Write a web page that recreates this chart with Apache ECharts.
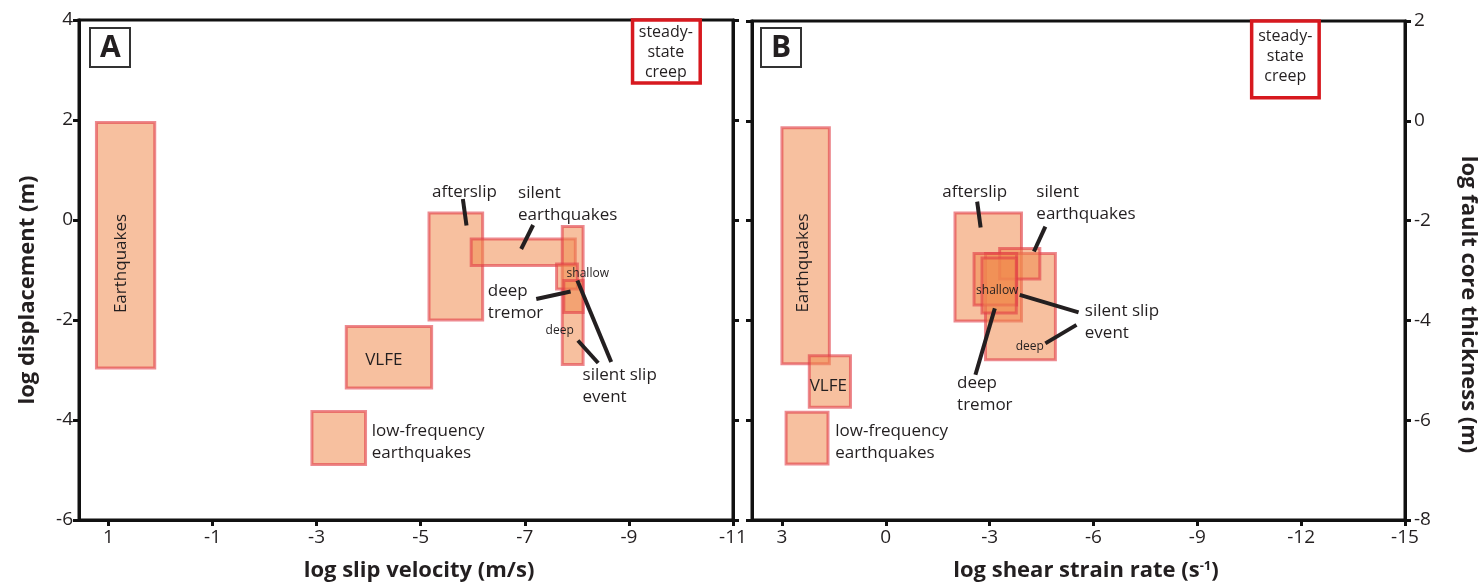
<!DOCTYPE html>
<html>
<head>
<meta charset="utf-8">
<title>Slip behaviour: slip velocity and strain rate</title>
<script src="https://cdn.jsdelivr.net/npm/echarts@6/dist/echarts.min.js"></script>
<style>
  html, body { margin: 0; padding: 0; background: #fff; }
  #chart { width: 1480px; height: 582px; }
</style>
</head>
<body>
<div id="chart"></div>
<script>
/* ---- panel A : log slip velocity (m/s) vs log displacement (m) ---- */
const namesA = ['Earthquakes', 'VLFE', 'low-frequency earthquakes', 'afterslip',
  'silent earthquakes', 'silent slip event', 'silent slip event (shallow)', 'deep tremor'];
const velLoA  = [0.11, -5.21, -3.94, -6.19, -7.97, -8.12, -8.01, -8.12];
const velHiA  = [1.23, -3.57, -2.91, -5.16, -5.97, -7.72, -7.61, -7.75];
const dispLoA = [-2.96, -3.36, -4.89, -2.00, -0.91, -2.89, -1.38, -1.85];
const dispHiA = [1.95, -2.13, -3.83, 0.14, -0.38, -0.13, -0.88, -1.21];
const creepA  = [-10.37, -9.07, 2.74, 4.0]; // steady-state creep box [xLo, xHi, yLo, yHi]

const velTicks  = [1, -1, -3, -5, -7, -9, -11];
const dispTicks = [4, 2, 0, -2, -4, -6];

// annotation anchors (data coords)
const labelsA = [['VLFE', -4.29, -2.81], ['afterslip', -5.84, 0.56]];
const creepLabelA = [['steady-\nstate\ncreep', -9.71, 3.36]];
const sideLabelsA = [['low-frequency\nearthquakes', -4.06, -4.45], ['silent\nearthquakes', -6.87, 0.31],
  ['deep\ntremor', -6.29, -1.64], ['silent slip\nevent', -8.11, -3.32]];
const tinyLabelsA = [['shallow', -8.21, -1.07], ['deep', -7.67, -2.21]];
const vertLabelsA = [['Earthquakes', 0.75, -0.87]];
const leadersA = [
  [-5.81, 0.42, -5.88, -0.11],
  [-7.16, -0.10, -6.93, -0.58],
  [-7.22, -1.58, -7.88, -1.43],
  [-8.01, -1.21, -8.66, -2.84],
  [-8.02, -2.41, -8.41, -2.86]
];

/* ---- panel B : log shear strain rate (1/s) vs log fault core thickness (m) ---- */
const namesB = ['Earthquakes', 'VLFE', 'low-frequency earthquakes', 'afterslip',
  'silent slip event (deep)', 'silent earthquakes', 'silent slip event (shallow)', 'deep tremor'];
const rateLoB  = [1.63, 1.02, 1.67, -3.92, -4.90, -4.45, -3.78, -3.77];
const rateHiB  = [3.00, 2.21, 2.88, -2.00, -2.88, -3.29, -2.55, -2.78];
const thickLoB = [-4.87, -5.74, -6.88, -4.01, -4.79, -3.17, -3.69, -3.85];
const thickHiB = [-0.14, -4.71, -5.84, -1.85, -2.66, -2.56, -2.66, -2.75];
const creepB   = [-12.52, -10.57, 0.46, 2.0];

const rateTicks  = [3, 0, -3, -6, -9, -12, -15];
const thickTicks = [2, 0, -2, -4, -6, -8];

const labelsB = [['VLFE', 1.66, -5.31], ['afterslip', -2.57, -1.42]];
const creepLabelB = [['steady-\nstate\ncreep', -11.54, 1.28]];
const sideLabelsB = [['low-frequency\nearthquakes', 1.46, -6.45], ['silent\nearthquakes', -4.35, -1.65],
  ['deep\ntremor', -2.06, -5.47], ['silent slip\nevent', -5.75, -4.04]];
const tinyLabelsB = [['shallow', -3.22, -3.41], ['deep', -4.16, -4.53]];
const vertLabelsB = [['Earthquakes', 2.4, -2.85]];
const leadersB = [
  [-2.64, -1.62, -2.74, -2.14],
  [-4.61, -2.12, -4.28, -2.62],
  [-3.87, -3.49, -5.57, -3.84],
  [-4.61, -4.46, -5.51, -4.09],
  [-3.15, -3.76, -2.59, -5.09]
];

const INK = '#231f20';
const FONT = 'Open Sans';
const boxStyle = { fill: 'rgba(240,140,80,0.55)', stroke: 'rgba(225,60,70,0.6)', lineWidth: 3 };
const creepStyle = { fill: '#fff', stroke: '#d7191f', lineWidth: 3.5 };

// rectangles from [xLo, xHi, yLo, yHi]
function boxSeries(rows, xi, yi, style) {
  return {
    type: 'custom', xAxisIndex: xi, yAxisIndex: yi, silent: true,
    data: rows,
    encode: { x: [0, 1], y: [2, 3] },
    renderItem: function (params, api) {
      var a = api.coord([api.value(0), api.value(3)]);
      var b = api.coord([api.value(1), api.value(2)]);
      return {
        type: 'rect',
        shape: { x: Math.min(a[0], b[0]), y: Math.min(a[1], b[1]),
          width: Math.abs(b[0] - a[0]), height: Math.abs(b[1] - a[1]) },
        style: style
      };
    }
  };
}

// black leader lines [x1, y1, x2, y2]
function lineSeries(rows, xi, yi) {
  return {
    type: 'custom', xAxisIndex: xi, yAxisIndex: yi, silent: true,
    data: rows,
    encode: { x: [0, 2], y: [1, 3] },
    renderItem: function (params, api) {
      var a = api.coord([api.value(0), api.value(1)]);
      var b = api.coord([api.value(2), api.value(3)]);
      return { type: 'line', shape: { x1: a[0], y1: a[1], x2: b[0], y2: b[1] },
        style: { stroke: INK, lineWidth: 4 } };
    }
  };
}

function textSeries(labels, xi, yi, opt) {
  return {
    type: 'custom', xAxisIndex: xi, yAxisIndex: yi, silent: true,
    data: labels.map(function (l) { return [l[1], l[2]]; }),
    renderItem: function (params, api) {
      var p = api.coord([api.value(0), api.value(1)]);
      return {
        type: 'text', x: p[0], y: p[1], rotation: opt.rotation || 0,
        style: {
          text: labels[params.dataIndex][0], fill: INK, fontFamily: FONT,
          fontSize: opt.size, lineHeight: opt.lineHeight || opt.size + 5,
          align: opt.align || 'center', verticalAlign: 'middle'
        }
      };
    }
  };
}

function rows(lo, hi, ylo, yhi) {
  return lo.map(function (v, i) { return [v, hi[i], ylo[i], yhi[i]]; });
}

const axisLine = { show: true, onZero: false, lineStyle: { color: '#111', width: 3 } };
const tickStyle = { color: '#111', width: 3 };
const tickLabel = { fontSize: 19, color: INK, fontFamily: FONT };
const titleFont = { fontSize: 22, fontWeight: 'bold', color: INK, fontFamily: FONT };
const letterFont = { fontSize: 30, fontWeight: 'bold', color: INK, fontFamily: FONT, lineHeight: 34 };

const option = {
  animation: false,
  textStyle: { fontFamily: FONT },
  title: [
    { text: 'A', left: 90, top: 28, padding: [3, 10, 2, 10], borderColor: '#333', borderWidth: 2, textStyle: letterFont },
    { text: 'B', left: 761, top: 28, padding: [3, 10, 2, 10], borderColor: '#333', borderWidth: 2, textStyle: letterFont }
  ],
  grid: [
    { left: 79, top: 20, width: 654, height: 500, outerBoundsMode: 'none',
      show: true, borderColor: '#111', borderWidth: 3 },
    { left: 752, top: 21, width: 653, height: 499, outerBoundsMode: 'none',
      show: true, borderColor: '#111', borderWidth: 3 }
  ],
  xAxis: [
    { gridIndex: 0, type: 'value', position: 'bottom', inverse: true, min: -11, max: 1.565,
      axisLine: axisLine, splitLine: { show: false },
      axisTick: { length: 6, lineStyle: tickStyle, customValues: velTicks },
      axisLabel: Object.assign({ margin: 8, customValues: velTicks }, tickLabel),
      name: 'log slip velocity (m/s)', nameLocation: 'middle', nameGap: 40,
      nameTextStyle: Object.assign({ padding: [0, 0, 0, 26] }, titleFont) },
    { gridIndex: 1, type: 'value', position: 'bottom', inverse: true, min: -15, max: 3.865,
      axisLine: axisLine, splitLine: { show: false },
      axisTick: { length: 6, lineStyle: tickStyle, customValues: rateTicks },
      axisLabel: Object.assign({ margin: 8, customValues: rateTicks }, tickLabel),
      name: '{t|log shear strain rate (s}{s|-1}{t|)}', nameLocation: 'middle', nameGap: 40,
      nameTextStyle: Object.assign({ padding: [0, 0, 0, 15],
        rich: { t: titleFont, s: { fontSize: 13, fontWeight: 'bold', color: INK, fontFamily: FONT, verticalAlign: 'top' } } }, titleFont) }
  ],
  yAxis: [
    { gridIndex: 0, type: 'value', position: 'left', min: -6, max: 4,
      axisLine: axisLine, splitLine: { show: false },
      axisTick: { length: 6, lineStyle: tickStyle, customValues: dispTicks },
      axisLabel: Object.assign({ margin: 6, customValues: dispTicks }, tickLabel),
      name: 'log displacement (m)', nameLocation: 'middle', nameRotate: 90, nameGap: 40,
      nameTextStyle: Object.assign({ padding: [0, 40, 0, 0] }, titleFont) },
    { gridIndex: 0, type: 'value', position: 'right', min: -6, max: 4,
      axisLine: axisLine, splitLine: { show: false },
      axisTick: { length: 6, lineStyle: tickStyle, customValues: dispTicks }, axisLabel: { show: false } },
    { gridIndex: 1, type: 'value', position: 'left', min: -8, max: 2,
      axisLine: axisLine, splitLine: { show: false },
      axisTick: { length: 6, lineStyle: tickStyle, customValues: thickTicks }, axisLabel: { show: false } },
    { gridIndex: 1, type: 'value', position: 'right', min: -8, max: 2,
      axisLine: axisLine, splitLine: { show: false },
      axisTick: { length: 6, lineStyle: tickStyle, customValues: thickTicks },
      axisLabel: Object.assign({ margin: 9, customValues: thickTicks }, tickLabel),
      name: 'log fault core thickness (m)', nameLocation: 'middle', nameRotate: -90, nameGap: 52,
      nameTextStyle: Object.assign({ padding: [0, 0, 0, 68] }, titleFont) }
  ],
  series: [
    // panel A
    boxSeries(rows(velLoA, velHiA, dispLoA, dispHiA), 0, 0, boxStyle),
    boxSeries([creepA], 0, 0, creepStyle),
    lineSeries(leadersA, 0, 0),
    textSeries(labelsA, 0, 0, { size: 17 }),
    textSeries(creepLabelA, 0, 0, { size: 16, lineHeight: 20 }),
    textSeries(sideLabelsA, 0, 0, { size: 17, align: 'left', lineHeight: 22 }),
    textSeries(tinyLabelsA, 0, 0, { size: 12 }),
    textSeries(vertLabelsA, 0, 0, { size: 17, rotation: Math.PI / 2 }),
    // panel B
    boxSeries(rows(rateLoB, rateHiB, thickLoB, thickHiB), 1, 3, boxStyle),
    boxSeries([creepB], 1, 3, creepStyle),
    lineSeries(leadersB, 1, 3),
    textSeries(labelsB, 1, 3, { size: 17 }),
    textSeries(creepLabelB, 1, 3, { size: 16, lineHeight: 20 }),
    textSeries(sideLabelsB, 1, 3, { size: 17, align: 'left', lineHeight: 22 }),
    textSeries(tinyLabelsB, 1, 3, { size: 12 }),
    textSeries(vertLabelsB, 1, 3, { size: 17, rotation: Math.PI / 2 })
  ]
};

var chart = echarts.init(document.getElementById('chart'), null, { renderer: 'canvas' });
chart.setOption(option);
</script>
</body>
</html>
